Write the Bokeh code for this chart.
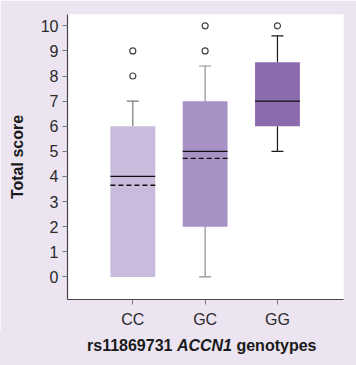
from bokeh.plotting import figure
from bokeh.models import Range1d, FixedTicker, ColumnDataSource, Div
from bokeh.layouts import column
from bokeh.embed import file_html
from bokeh.resources import INLINE

categories = ["CC", "GC", "GG"]
q1 = [0, 2, 6]
median = [4, 5, 7]
q3 = [6, 7, 8.55]
lower_whisker = [0, 0, 5]
upper_whisker = [7, 8.4, 9.6]
mean_cats = ["CC", "GC"]
mean_vals = [3.65, 4.72]
outlier_cats = ["CC", "CC", "GC", "GC", "GG"]
outlier_vals = [8, 9, 9, 10, 10]
y_ticks = list(range(0, 11))
x_title_parts = ["rs11869731", "ACCN1", "genotypes"]

box_colors = ["#C9BBDC", "#A690C4", "#8B6BAE"]
whisker_colors = ["#7a7a7a", "#8f8f8f", "#1a1a1a"]
BG = "#ECE4F1"

pos = {c: i + 1 for i, c in enumerate(categories)}
xs = [pos[c] for c in categories]

p = figure(width=356, height=330, output_backend="svg", toolbar_location=None,
           x_range=Range1d(0.097, 3.913), y_range=Range1d(-0.9, 10.45),
           min_border_left=67, min_border_right=13, min_border_top=14, min_border_bottom=30)
p.background_fill_color = "white"
p.border_fill_color = BG
p.outline_line_color = None
p.xgrid.visible = False
p.ygrid.visible = False

bw = 0.62
cap = 0.166

# whiskers
for x, lo, hi, a, b, wc in zip(xs, lower_whisker, upper_whisker, q1, q3, whisker_colors):
    if hi > b:
        p.segment(x0=[x], y0=[b], x1=[x], y1=[hi], line_color=wc, line_width=1.2)
        p.segment(x0=[x - cap / 2], y0=[hi], x1=[x + cap / 2], y1=[hi], line_color=wc, line_width=1.2)
    if lo < a:
        p.segment(x0=[x], y0=[lo], x1=[x], y1=[a], line_color=wc, line_width=1.2)
        p.segment(x0=[x - cap / 2], y0=[lo], x1=[x + cap / 2], y1=[lo], line_color=wc, line_width=1.2)

src = ColumnDataSource(dict(x=xs, q1=q1, q3=q3, med=median, color=box_colors))
p.vbar(x="x", width=bw, bottom="q1", top="q3", fill_color="color", line_color=None, source=src)
p.segment(x0=[x - bw / 2 for x in xs], y0=median, x1=[x + bw / 2 for x in xs], y1=median,
          line_color="#111111", line_width=1.3)
mx = [pos[c] for c in mean_cats]
p.segment(x0=[x - bw / 2 for x in mx], y0=mean_vals, x1=[x + bw / 2 for x in mx], y1=mean_vals,
          line_color="#111111", line_width=1.3, line_dash="5 3")

p.scatter(x=[pos[c] for c in outlier_cats], y=outlier_vals, size=6, fill_color="white",
          line_color="#444444", line_width=1.2)

# axes
p.xaxis.ticker = FixedTicker(ticks=xs)
p.xaxis.major_label_overrides = {pos[c]: c for c in categories}
p.yaxis.ticker = FixedTicker(ticks=y_ticks)
for ax in (p.xaxis[0], p.yaxis[0]):
    ax.major_tick_out = 5
    ax.major_tick_in = 0
    ax.minor_tick_out = 0
    ax.minor_tick_in = 0
    ax.major_label_text_font = "Liberation Sans"
    ax.major_label_text_font_size = "16px"
    ax.major_label_text_color = "#2a2a2a"
    ax.major_tick_line_color = "#777777"
    ax.axis_line_color = "#444444"
    ax.axis_line_width = 1.2
p.xaxis.major_label_standoff = 6
p.yaxis.major_label_standoff = 4
p.yaxis.axis_label = "Total score"
p.yaxis.axis_label_text_font = "Liberation Sans"
p.yaxis.axis_label_text_font_style = "bold"
p.yaxis.axis_label_text_font_size = "16px"
p.yaxis.axis_label_text_color = "#1a1a1a"
p.yaxis.axis_label_standoff = 12

# x-axis title (mixed bold / bold-italic text)
html = ('<div style="margin:0;padding:7px 0 0 87px;height:35px;box-sizing:border-box;'
        'background:%s;font-family:\'Liberation Sans\';font-size:16px;font-weight:bold;'
        'color:#1a1a1a;line-height:18px;white-space:nowrap;">%s <i>%s</i> %s</div>'
        % (BG, x_title_parts[0], x_title_parts[1], x_title_parts[2]))
t = Div(text=html, width=356, height=35, margin=(0, 0, 0, 0),
        styles={"background-color": BG})

layout = column(p, t, spacing=0)
open("out.html", "w").write(file_html(layout, INLINE))
